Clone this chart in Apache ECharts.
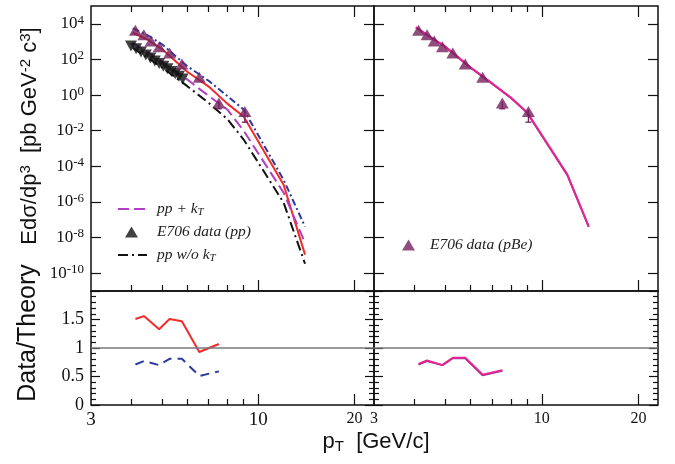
<!DOCTYPE html>
<html>
<head>
<meta charset="utf-8">
<script src="https://cdn.jsdelivr.net/npm/echarts@6/dist/echarts.min.js"></script>
<style>
  html, body { margin: 0; padding: 0; background: #fff; }
  #chart { width: 675px; height: 464px; }
</style>
</head>
<body>
<div id="chart"></div>
<script>
  // E706 data, pBe (up triangles)
  const pBePt = [4.13, 4.39, 4.62, 4.90, 5.28, 5.77, 6.54, 7.53, 9.08]
  const pBeVal = [4400, 2400, 1100, 510, 230, 56, 10, 0.36, 0.12]
  const errPt = [7.53, 9.08]
  const errLo = [0.17, 0.03]
  const errHi = [0.45, 0.15]

  // E706 data, pp (down triangles)
  const ppPt = [4.0, 4.15, 4.3, 4.45, 4.6, 4.75, 4.9, 5.05, 5.2, 5.35, 5.5, 5.65, 5.8]
  const ppVal = [560, 400, 265, 178, 120, 83, 59, 42, 30, 21, 15.5, 11.2, 8.1]

  // theory curves
  const thPt = [4.05, 4.5, 5.0, 6.0, 7.0, 8.0, 9.0, 12.0, 14.0]
  const redVal = [3160, 1320, 380, 20.4, 3.0, 0.33, 0.063, 9.3e-6, 1.1e-9]
  const blueVal = [5600, 2340, 710, 41.7, 6.3, 0.89, 0.155, 1.74e-5, 4.1e-8]
  const ppKtVal = [890, 263, 76, 7.4, 0.89, 0.155, 0.01, 3.3e-6, 5.1e-9]
  const ppNoKtVal = [447, 126, 35.5, 3.16, 0.36, 0.045, 0.0032, 9.1e-7, 3.4e-10]
  const pBePinkVal = [6300, 1780, 525, 34.7, 4.5, 0.72, 0.105, 3.4e-5, 4.1e-8]
  const pBePurpleVal = [6200, 1760, 520, 34.0, 4.4, 0.71, 0.10, 3.3e-5, 4.0e-8]

  // data / theory
  const ratioPt = [4.13, 4.39, 4.90, 5.28, 5.77, 6.54, 7.53]
  const ratioRed = [1.51, 1.56, 1.33, 1.51, 1.47, 0.93, 1.07]
  const ratioBlue = [0.71, 0.77, 0.70, 0.81, 0.81, 0.51, 0.59]
  const ratioPink = [0.72, 0.78, 0.70, 0.83, 0.83, 0.53, 0.61]
  const ratioPurple = [0.71, 0.77, 0.70, 0.82, 0.82, 0.52, 0.60]

  // ticks
  const xMajor = [10, 20]
  const xMinor = [4, 5, 6, 7, 8, 9]
  const xLabels = [3, 10, 20]
  const yLogTicks = [1e-10, 1e-8, 1e-6, 1e-4, 1e-2, 1, 1e2, 1e4]
  const ratioLabels = [0, 0.5, 1, 1.5]

  const serif = "'Liberation Serif', 'Times New Roman', serif"
  const sans = "'Liberation Sans', Arial, sans-serif"

  const pairs = (xs, ys) => xs.map((x, i) => [x, ys[i]])

  const grids = [
    { left: 91, top: 6, width: 283, height: 285 },
    { left: 374, top: 6, width: 284, height: 285 },
    { left: 91, top: 291, width: 283, height: 114 },
    { left: 374, top: 291, width: 284, height: 114 }
  ].map(g => Object.assign(g, { show: true, borderColor: '#111', borderWidth: 1.5, containLabel: false }))

  const tickLine = { color: '#111', width: 1.2 }

  // x axes: one axis for long ticks, one for short ticks, per side
  const xAxes = []
  const xIdx = []
  grids.forEach((g, gi) => {
    const base = {
      type: 'log', logBase: 10, gridIndex: gi, min: 3, max: 23,
      axisLine: { show: false, onZero: false }, splitLine: { show: false }
    }
    const sides = gi < 2 ? ['bottom', 'top'] : ['bottom']
    sides.forEach(pos => {
      if (xIdx[gi] === undefined) xIdx[gi] = xAxes.length
      let label = { show: false }
      if (pos === 'bottom' && gi >= 2) {
        label = {
          show: true,
          customValues: xLabels,
          margin: 6,
          formatter: v => {
            const r = Math.round(v)
            return gi === 2 && r !== 20 ? '{b|' + r + '}' : '{s|' + r + '}'
          },
          rich: {
            b: { fontFamily: serif, fontSize: 19, color: '#111' },
            s: { fontFamily: serif, fontSize: 16, color: '#111' }
          }
        }
      }
      xAxes.push(Object.assign({}, base, {
        position: pos,
        axisTick: { inside: true, length: 11, customValues: xMajor, lineStyle: tickLine },
        axisLabel: label
      }))
      xAxes.push(Object.assign({}, base, {
        position: pos,
        axisTick: { inside: true, length: 6, customValues: xMinor, lineStyle: tickLine },
        axisLabel: { show: false }
      }))
    })
  })

  // y axes
  const yAxes = []
  const yIdx = []
  grids.forEach((g, gi) => {
    yIdx[gi] = yAxes.length
    ;['left', 'right'].forEach(pos => {
      const withLabel = pos === 'left' && (gi === 0 || gi === 2)
      if (gi < 2) {
        yAxes.push({
          type: 'log', logBase: 10, gridIndex: gi, position: pos, min: 1e-11, max: 1e5,
          axisLine: { show: false }, splitLine: { show: false },
          axisTick: { inside: true, length: 10, customValues: yLogTicks, lineStyle: tickLine },
          axisLabel: withLabel ? {
            customValues: yLogTicks,
            margin: 7,
            formatter: v => '{b|10}{s|' + Math.round(Math.log10(v)) + '}',
            rich: {
              b: { fontFamily: serif, fontSize: 17, color: '#111', lineHeight: 20 },
              s: { fontFamily: serif, fontSize: 13, color: '#111', verticalAlign: 'top', lineHeight: 12 }
            }
          } : { show: false }
        })
      } else {
        yAxes.push({
          type: 'value', gridIndex: gi, position: pos, min: 0, max: 2, interval: 0.5,
          axisLine: { show: false }, splitLine: { show: false },
          axisTick: { inside: true, length: 9, lineStyle: tickLine },
          minorTick: { show: true, splitNumber: 5, length: 5, lineStyle: tickLine },
          axisLabel: withLabel ? {
            customValues: ratioLabels,
            margin: 7,
            fontFamily: serif, fontSize: 18, color: '#111',
            formatter: v => String(v)
          } : { show: false }
        })
      }
    })
  })

  const line = (name, gi, xs, ys, color, width, type) => ({
    name, type: 'line', xAxisIndex: xIdx[gi], yAxisIndex: yIdx[gi],
    data: pairs(xs, ys), symbol: 'none', z: 2,
    lineStyle: { color, width, type },
    itemStyle: { color }
  })

  const unity = {
    silent: true, symbol: 'none', label: { show: false },
    lineStyle: { color: '#777', width: 1.5, type: 'solid' },
    data: [{ yAxis: 1 }]
  }

  const triColor = '#74205e'
  const errData = errPt.map((x, i) => [x, errLo[i], errHi[i]])
  const errBars = gi => ({
    type: 'custom', xAxisIndex: xIdx[gi], yAxisIndex: yIdx[gi], z: 4,
    data: errData,
    encode: { x: 0, y: [1, 2] },
    renderItem: (params, api) => {
      const lo = api.coord([api.value(0), api.value(1)])
      const hi = api.coord([api.value(0), api.value(2)])
      const st = { stroke: triColor, lineWidth: 1.3 }
      return {
        type: 'group',
        children: [
          { type: 'line', shape: { x1: lo[0], y1: lo[1], x2: hi[0], y2: hi[1] }, style: st },
          { type: 'line', shape: { x1: lo[0] - 3, y1: lo[1], x2: lo[0] + 3, y2: lo[1] }, style: st }
        ]
      }
    }
  })
  const pBeScatter = gi => ({
    name: 'E706 data (pBe)', type: 'scatter', xAxisIndex: xIdx[gi], yAxisIndex: yIdx[gi],
    data: pairs(pBePt, pBeVal), symbol: 'triangle', symbolSize: [13, 11], z: 5,
    itemStyle: { color: triColor }
  })

  const series = [
    // top left
    line('pBe + kT', 0, thPt, redVal, '#f22a2a', 2, 'solid'),
    line('pBe w/o kT', 0, thPt, blueVal, '#2b3a9e', 2, [7, 3, 2, 3]),
    line('pp + kT', 0, thPt, ppKtVal, '#b23ec4', 2, [11, 5]),
    line('pp w/o kT', 0, thPt, ppNoKtVal, '#111', 2, [10, 4, 2, 4]),
    {
      name: 'E706 data (pp)', type: 'scatter', xAxisIndex: xIdx[0], yAxisIndex: yIdx[0],
      data: pairs(ppPt, ppVal), symbol: 'triangle', symbolRotate: 180, symbolSize: [12, 11], z: 4,
      itemStyle: { color: '#111' }
    },
    pBeScatter(0),
    errBars(0),
    // top right
    line('pBe purple', 1, thPt, pBePurpleVal, '#7a4aa8', 2, 'solid'),
    line('pBe pink', 1, thPt, pBePinkVal, '#e8238f', 2, 'solid'),
    pBeScatter(1),
    errBars(1),
    // ratios
    Object.assign(line('r red', 2, ratioPt, ratioRed, '#f22a2a', 2, 'solid'), { markLine: unity }),
    line('r blue', 2, ratioPt, ratioBlue, '#2b3a9e', 2, [9, 6]),
    Object.assign(line('r purple', 3, ratioPt, ratioPurple, '#7a4aa8', 2, 'solid'), { markLine: unity }),
    line('r pink', 3, ratioPt, ratioPink, '#e8238f', 2, 'solid')
  ]

  const legendText = {
    fontFamily: serif, fontStyle: 'italic', fontSize: 15.5, color: '#222',
    rich: {
      i: { fontFamily: serif, fontStyle: 'italic', fontSize: 15.5, color: '#222', padding: [0, 0, 0, 5] },
      t: { fontFamily: serif, fontStyle: 'italic', fontSize: 11, color: '#222', verticalAlign: 'bottom', padding: [6, 0, 0, 0] }
    }
  }
  const legendFmt = name => name.endsWith('kT') ? '{i|' + name.slice(0, -1) + '}{t|T}' : name
  // line samples: hide the symbol, keep the dashed line
  const lineLegend = (name, left, top) => ({
    data: [name], left, top, padding: 0, itemWidth: 29, itemHeight: 12, selectedMode: false,
    itemStyle: { opacity: 0 },
    textStyle: legendText, formatter: legendFmt
  })
  // marker samples: plain triangle, text pushed to line up with the others
  const markLegend = (name, left, top, pad) => ({
    data: [name], left, top, padding: 0, itemWidth: 13, itemHeight: 11, selectedMode: false,
    textStyle: { fontFamily: serif, fontStyle: 'italic', fontSize: 15.5, color: '#222', padding: [0, 0, 0, pad] }
  })

  const chart = echarts.init(document.getElementById('chart'))
  chart.setOption({
    animation: false,
    backgroundColor: '#fff',
    grid: grids,
    xAxis: xAxes,
    yAxis: yAxes,
    series,
    legend: [
      lineLegend('pp + kT', 117, 201),
      markLegend('E706 data (pp)', 125, 224, 14),
      lineLegend('pp w/o kT', 117, 247),
      markLegend('E706 data (pBe)', 402, 237, 10)
    ],
    graphic: [
      {
        type: 'text', x: 30, y: 136, rotation: Math.PI / 2,
        style: {
          text: '{a|Edσ/dp}{s|3}{a|  [pb GeV}{s|-2}{a| c}{s|3}{a|]}',
          align: 'center', verticalAlign: 'middle',
          rich: {
            a: { fontFamily: sans, fontSize: 22, fill: '#111', lineHeight: 24 },
            s: { fontFamily: sans, fontSize: 15, fill: '#111', verticalAlign: 'top', lineHeight: 13 }
          }
        }
      },
      {
        type: 'text', x: 28, y: 333, rotation: Math.PI / 2,
        style: {
          text: 'Data/Theory', align: 'center', verticalAlign: 'middle',
          font: '25px ' + sans, fill: '#111'
        }
      },
      {
        type: 'text', x: 376, y: 442,
        style: {
          text: '{a|p}{t|T}{a|  [GeV/c]}',
          align: 'center', verticalAlign: 'middle',
          rich: {
            a: { fontFamily: sans, fontSize: 22, fill: '#111', lineHeight: 24 },
            t: { fontFamily: sans, fontSize: 15, fill: '#111', verticalAlign: 'bottom', padding: [10, 0, 0, 0] }
          }
        }
      }
    ]
  })
</script>
</body>
</html>
